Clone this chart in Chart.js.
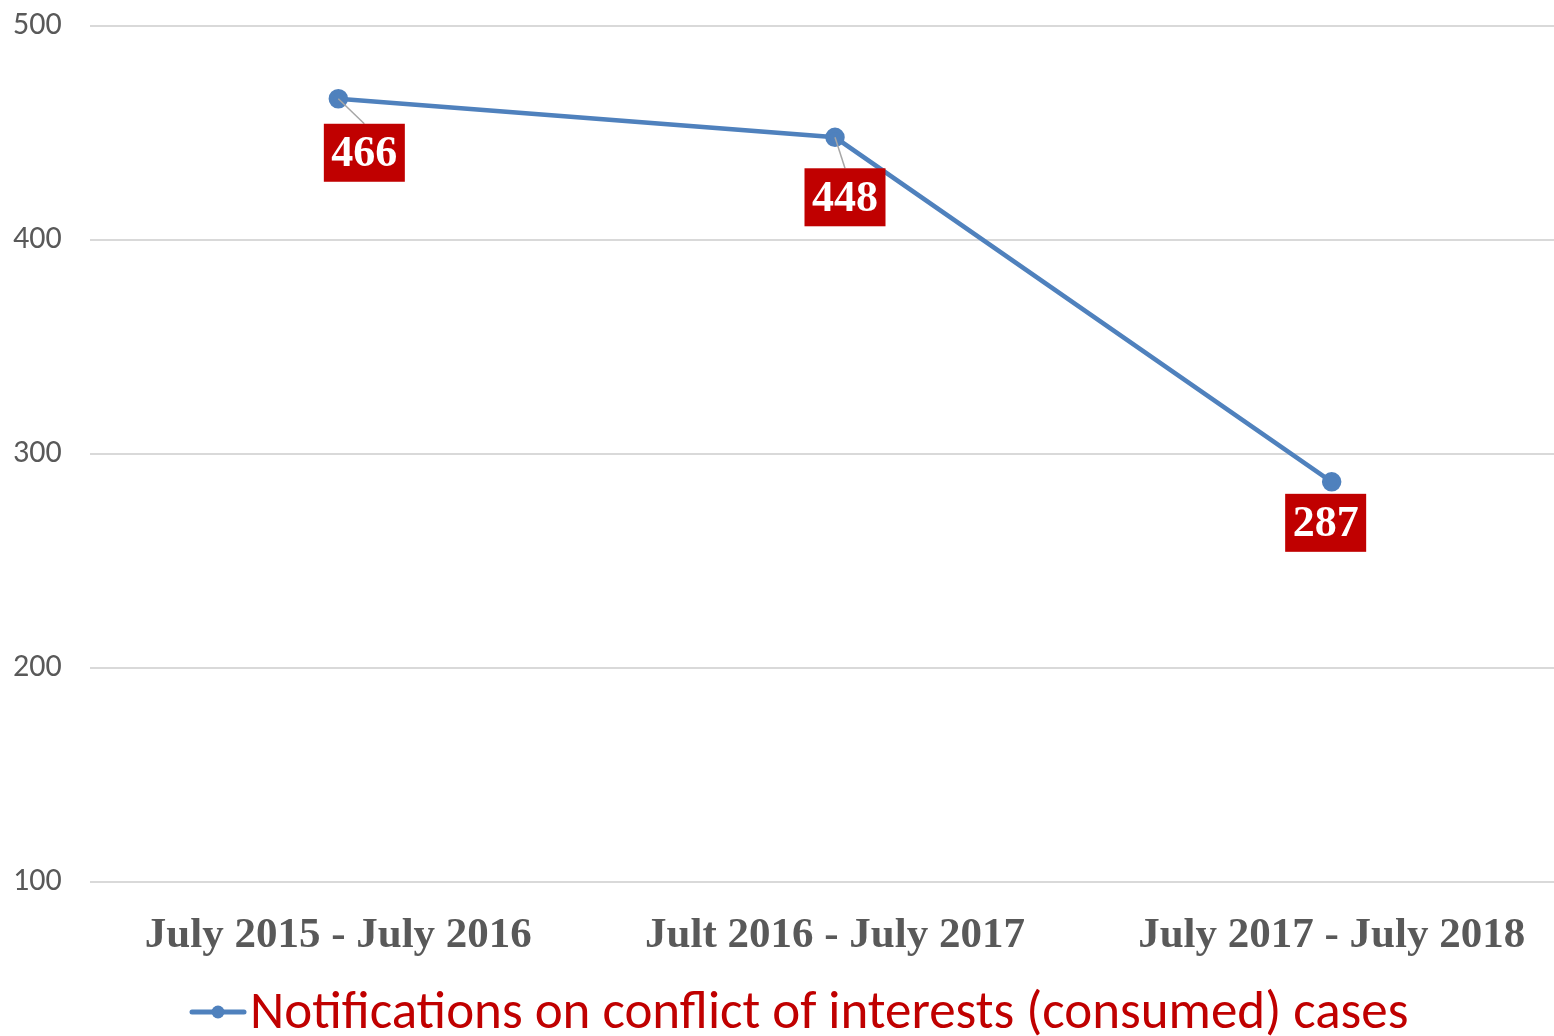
<!DOCTYPE html>
<html>
<head>
<meta charset="utf-8">
<script src="https://cdn.jsdelivr.net/npm/chart.js@4"></script>
<style>
  html, body { margin: 0; padding: 0; background: #fff; overflow: hidden; }
  #wrap { width: 1554px; height: 1036px; overflow: hidden; }
</style>
</head>
<body>
<div id="wrap"><canvas id="chart" width="1592" height="1036"></canvas></div>
<script>
// ===== data =====
const periods = ['July 2015 - July 2016', 'Jult 2016 - July 2017', 'July 2017 - July 2018'];
const notifications = [466, 448, 287];
const seriesLabel = 'Notifications on conflict of interests (consumed) cases';
const yTicks = [100, 200, 300, 400, 500];

// label box placement relative to each point (dx of box centre, dy of box top)
const labelOffsets = [[26, 25], [10, 31], [-6, 12]];
const leaderLines = [true, true, false];

const LINE_COLOR = '#4f81bd';
const RED = '#c00000';
const GREY = '#595959';
const SERIF = '"Liberation Serif", "Times New Roman", serif';
const SANS = 'Carlito, Calibri, "Open Sans", sans-serif';

// red boxes with leader lines
const dataLabels = {
  id: 'dataLabels',
  afterDatasetsDraw(chart) {
    const ctx = chart.ctx;
    const meta = chart.getDatasetMeta(0);
    ctx.save();
    meta.data.forEach((pt, i) => {
      const [dx, dy] = labelOffsets[i];
      const w = 81, h = 58;
      const cx = pt.x + dx, top = pt.y + dy;
      if (leaderLines[i]) {
        ctx.strokeStyle = '#a6a6a6';
        ctx.lineWidth = 1.5;
        ctx.beginPath();
        ctx.moveTo(pt.x, pt.y);
        ctx.lineTo(cx, top);
        ctx.stroke();
      }
      ctx.fillStyle = RED;
      ctx.fillRect(cx - w / 2, top, w, h);
      ctx.fillStyle = '#fff';
      ctx.font = 'bold 44px ' + SERIF;
      ctx.textAlign = 'center';
      ctx.textBaseline = 'middle';
      ctx.fillText(String(notifications[i]), cx, top + h / 2 + 2);
    });
    ctx.restore();
  }
};

// legend drawn by hand (line + dot marker, red text)
const customLegend = {
  id: 'customLegend',
  afterDraw(chart) {
    const ctx = chart.ctx;
    const y = 1012;
    ctx.save();
    ctx.strokeStyle = LINE_COLOR;
    ctx.lineWidth = 5;
    ctx.lineCap = 'round';
    ctx.beginPath();
    ctx.moveTo(192, y);
    ctx.lineTo(244, y);
    ctx.stroke();
    ctx.fillStyle = LINE_COLOR;
    ctx.beginPath();
    ctx.arc(218, y, 6.5, 0, Math.PI * 2);
    ctx.fill();
    ctx.fillStyle = RED;
    ctx.font = '53px ' + SANS;
    ctx.textAlign = 'left';
    ctx.textBaseline = 'alphabetic';
    ctx.fillText(seriesLabel, 250, 1028);
    ctx.restore();
  }
};

new Chart(document.getElementById('chart'), {
  type: 'line',
  data: {
    labels: periods,
    datasets: [{
      label: seriesLabel,
      data: notifications,
      borderColor: LINE_COLOR,
      backgroundColor: LINE_COLOR,
      borderWidth: 4.5,
      pointRadius: 7.5,
      pointHoverRadius: 7.5,
      tension: 0
    }]
  },
  options: {
    responsive: false,
    animation: false,
    layout: { padding: { left: 13, top: 26, right: 2, bottom: 64 } },
    plugins: {
      legend: { display: false },
      tooltip: { enabled: false }
    },
    scales: {
      x: {
        offset: true,
        grid: { display: false },
        border: { display: false },
        ticks: {
          color: GREY,
          font: { family: SERIF, size: 43, weight: 'bold' },
          padding: 20,
          maxRotation: 0
        },
        afterFit: (scale) => { scale.height = 90; }
      },
      y: {
        min: 100,
        max: 500,
        afterBuildTicks: (scale) => { scale.ticks = yTicks.map(v => ({ value: v })); },
        grid: { color: '#d9d9d9', lineWidth: 2, drawTicks: false },
        border: { display: false },
        ticks: {
          color: GREY,
          font: { family: SANS, size: 32 },
          crossAlign: 'far'
        },
        afterFit: (scale) => { scale.width = 77; }
      }
    }
  },
  plugins: [dataLabels, customLegend]
});
</script>
</body>
</html>
